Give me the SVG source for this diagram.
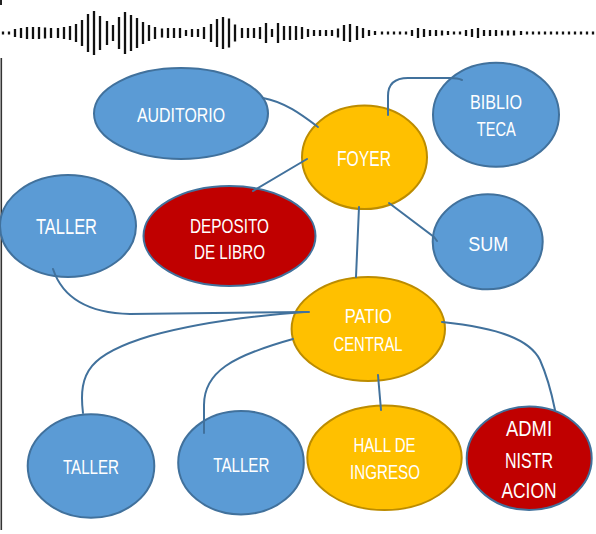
<svg xmlns="http://www.w3.org/2000/svg" width="596" height="534" viewBox="0 0 596 534">
  <style>
    .blue { fill: #5B9BD5; stroke: #41719C; stroke-width: 2; }
    .gold { fill: #FFC000; stroke: #BC8C00; stroke-width: 2; }
    .red  { fill: #C00000; stroke: #41719C; stroke-width: 2; }
    .lbl  { fill: #FFFFFF; font-family: "Liberation Sans", Arial, sans-serif; font-size: 21px; text-anchor: middle; }
    .wire { fill: none; stroke: #41719C; stroke-width: 2; stroke-linecap: round; }
    .wave { fill: none; stroke: #111111; stroke-width: 2.3; }
  </style>

  <rect width="596" height="534" fill="#FFFFFF"/>

  <!-- sound wave strip -->
  <path class="wave" d="M3 31.5v3M9 31.5v3M15 29v8M21 28v10M27 27v12M33 27v12M39 27v12M45 27.5v11M51 28v10M58 28v10M64 27v12M70 26v14M76 24v18M82 20v26M88 14v38M94 11v44M100 16v34M107 21v24M113 25v16M119 17v32M125 12v42M131 15v36M137 18v30M143 22v22M149 25v16M155 27v12M162 28.5v9M168 28v10M174 28v10M180 28v10M186 30v6M192 29v8M198 29v8M204 27v12M211 24v18M217 19v28M223 17v32M229 18.5v29M235 24.5v17M242 28v10M248 28v10M254 28v10M260 27v12M266 23v20M272 29v8M278 23v20M284 26v14M290 26v14M296 26v14M302 27v12M308 29v8M314 30v6M320 30v6M326 30v6M332 30v6M338 28.5v9M344 25v16M350 24v18M357 26v14M363 28v10M369 30v6M375 31v4M382 31.5v3M388 31.5v3M394 31.5v3M400 31.5v3M406 31.5v3M412 30v6M418 28v10M424 29v8M430 30v6M436 30v6M442 30.5v5M448 31v4M454 31.5v3M460 31.5v3M466 30v6M472 29v8M478 28v10M484 30v6M490 30v6M496 30v6M502 30.5v5M508 30.5v5M514 30.5v5M521 31v4M527 31.5v3M533 31.5v3M539 31.5v3M545 31.5v3M551 31.5v3M557 31.5v3M563 31.5v3M569 31.5v3M575 31.5v3M581 31.5v3M587 31.5v3M593 31.5v3"/>

  <!-- left page edge -->
  <rect x="0" y="0" width="2" height="5" fill="#222222"/>
  <rect x="0.5" y="58" width="1.6" height="472" fill="#333333"/>

  <g id="auditorio">
    <ellipse class="blue" cx="181" cy="113.5" rx="87" ry="45.5"/>
    <text class="lbl" x="181" y="122" textLength="88" lengthAdjust="spacingAndGlyphs">AUDITORIO</text>
  </g>

  <g id="biblioteca">
    <ellipse class="blue" cx="496" cy="114.7" rx="63" ry="52"/>
    <text class="lbl" x="496" y="109" textLength="52" lengthAdjust="spacingAndGlyphs">BIBLIO</text>
    <text class="lbl" x="496.3" y="136" textLength="39" lengthAdjust="spacingAndGlyphs">TECA</text>
  </g>

  <g id="foyer">
    <ellipse class="gold" cx="364.5" cy="157.3" rx="62.5" ry="51.7"/>
    <text class="lbl" x="364" y="166" style="font-size:22px" textLength="54" lengthAdjust="spacingAndGlyphs">FOYER</text>
  </g>

  <g id="taller-1">
    <ellipse class="blue" cx="68" cy="226" rx="68" ry="51"/>
    <text class="lbl" x="66.5" y="234" style="font-size:22px" textLength="61" lengthAdjust="spacingAndGlyphs">TALLER</text>
  </g>

  <g id="deposito">
    <ellipse class="red" cx="229.5" cy="236" rx="86" ry="50"/>
    <text class="lbl" x="229.5" y="233" textLength="79" lengthAdjust="spacingAndGlyphs">DEPOSITO</text>
    <text class="lbl" x="229.5" y="259" textLength="71" lengthAdjust="spacingAndGlyphs">DE LIBRO</text>
  </g>

  <g id="sum">
    <ellipse class="blue" cx="487.7" cy="241.8" rx="55" ry="47.5"/>
    <text class="lbl" x="488.3" y="251" textLength="40" lengthAdjust="spacingAndGlyphs">SUM</text>
  </g>

  <g id="patio-central">
    <ellipse class="gold" cx="368.3" cy="329" rx="76.7" ry="52"/>
    <text class="lbl" x="368.3" y="323" textLength="47" lengthAdjust="spacingAndGlyphs">PATIO</text>
    <text class="lbl" x="368" y="351" textLength="69" lengthAdjust="spacingAndGlyphs">CENTRAL</text>
  </g>

  <g id="taller-2">
    <ellipse class="blue" cx="91" cy="466" rx="63.3" ry="51.7"/>
    <text class="lbl" x="91" y="474" textLength="56" lengthAdjust="spacingAndGlyphs">TALLER</text>
  </g>

  <g id="taller-3">
    <ellipse class="blue" cx="241" cy="462.7" rx="62.8" ry="51.7"/>
    <text class="lbl" x="241.3" y="472" textLength="56" lengthAdjust="spacingAndGlyphs">TALLER</text>
  </g>

  <g id="hall-de-ingreso">
    <ellipse class="gold" cx="384.5" cy="457.8" rx="77.2" ry="52.2"/>
    <text class="lbl" x="384.5" y="452" textLength="62" lengthAdjust="spacingAndGlyphs">HALL DE</text>
    <text class="lbl" x="385" y="479" textLength="70" lengthAdjust="spacingAndGlyphs">INGRESO</text>
  </g>

  <g id="administracion">
    <ellipse class="red" cx="529.2" cy="458.3" rx="62.5" ry="51.7"/>
    <text class="lbl" x="529" y="436" style="font-size:22px" textLength="46" lengthAdjust="spacingAndGlyphs">ADMI</text>
    <text class="lbl" x="529" y="468" style="font-size:22px" textLength="48" lengthAdjust="spacingAndGlyphs">NISTR</text>
    <text class="lbl" x="529" y="498" style="font-size:22px" textLength="55" lengthAdjust="spacingAndGlyphs">ACION</text>
  </g>

  <g id="connectors">
    <path class="wire" d="M263,98 C285,102 302,115 318,127"/>
    <path class="wire" d="M307,159 L253,191"/>
    <path class="wire" d="M388,115 V96 Q388,78 408,78 L450,78 Q458,78 462,80"/>
    <path class="wire" d="M389,203 L434,237 L437,241"/>
    <path class="wire" d="M359,207 L356,277"/>
    <path class="wire" d="M53,269 C62,296 85,313 130,314 L309,312"/>
    <path class="wire" d="M83,413 C78,372 90,354 150,336 C200,322 250,316 304,312"/>
    <path class="wire" d="M204,433 V405 C204,372 232,356 293,339"/>
    <path class="wire" d="M378,375 L381,410"/>
    <path class="wire" d="M442,322 C500,328 530,340 540,360 C548,378 552,395 555,410"/>
  </g>
</svg>
